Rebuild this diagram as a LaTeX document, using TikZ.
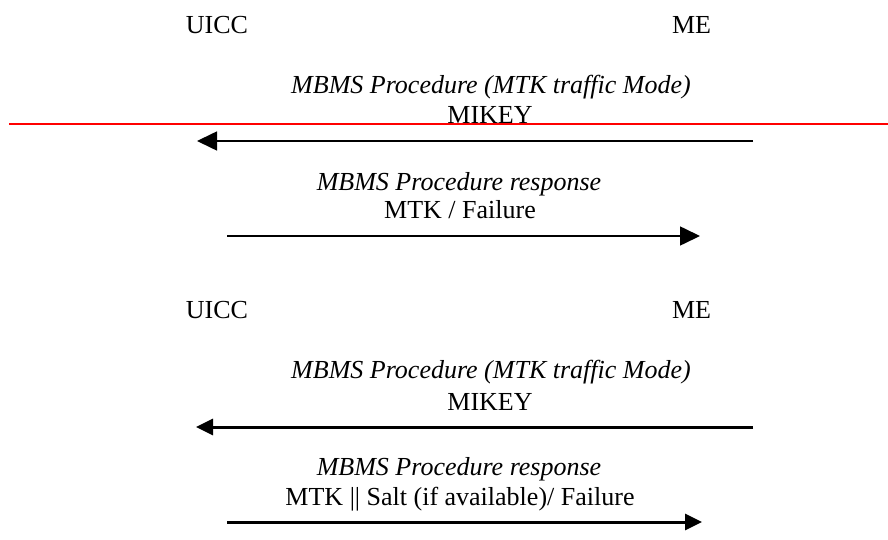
\documentclass[tikz,border=0pt]{standalone}
\usepackage{fontspec}
\setmainfont{Liberation Serif}
\usetikzlibrary{arrows.meta}
\tikzset{
	txt/.style={inner sep=0pt, anchor=base, font=\fontsize{26}{30}\selectfont},
	msgit/.style={txt, font=\fontsize{26}{30}\selectfont\itshape},
	thinmsg/.style={line width=1.6pt, -{Triangle[length=20pt,width=19pt]}},
	thickmsg/.style={line width=3pt, -{Triangle[length=17pt,width=16pt]}}
}

\begin{document}
\begin{tikzpicture}[x=1pt, y=-1pt]
		%%%%% START %%%%%
		\useasboundingbox (0, 0) rectangle (888, 540);
		
		% first exchange
		\node[txt] (uiccA) at (217, 33.5) {UICC};
		\node[txt] (meA) at (691.5, 33.5) {ME};
		
		\node[msgit] (reqA) at (491, 94) {MBMS Procedure (MTK traffic Mode)};
		\node[txt] (mikeyA) at (490, 124) {MIKEY};
		\coordinate (reqAme) at (753, 141);
		\coordinate (reqAuicc) at (197, 141);
		\draw[thinmsg] (reqAme) -- (reqAuicc);
		
		\node[msgit] (rspA) at (459, 190) {MBMS Procedure response};
		\node[txt] (mtkA) at (460, 218.5) {MTK / Failure};
		\coordinate (rspAuicc) at (227, 236);
		\coordinate (rspAme) at (700, 236);
		\draw[thinmsg] (rspAuicc) -- (rspAme);
		
		% red mark
		\coordinate (redL) at (9, 124.5);
		\coordinate (redR) at (888, 124.5);
		\draw[line width=2pt, color=red] (redL) -- (redR);
		
		% second exchange
		\node[txt] (uiccB) at (217, 318) {UICC};
		\node[txt] (meB) at (691.5, 318) {ME};
		
		\node[msgit] (reqB) at (491, 378) {MBMS Procedure (MTK traffic Mode)};
		\node[txt] (mikeyB) at (490, 410) {MIKEY};
		\coordinate (reqBme) at (753, 427);
		\coordinate (reqBuicc) at (196, 427);
		\draw[thickmsg] (reqBme) -- (reqBuicc);
		
		\node[msgit] (rspB) at (459, 475) {MBMS Procedure response};
		\node[txt] (mtkB) at (460, 505) {MTK || Salt (if available)/ Failure};
		\coordinate (rspBuicc) at (227, 522);
		\coordinate (rspBme) at (702, 522);
		\draw[thickmsg] (rspBuicc) -- (rspBme);
		
		%%%%% END %%%%%
	\end{tikzpicture}
\end{document}
